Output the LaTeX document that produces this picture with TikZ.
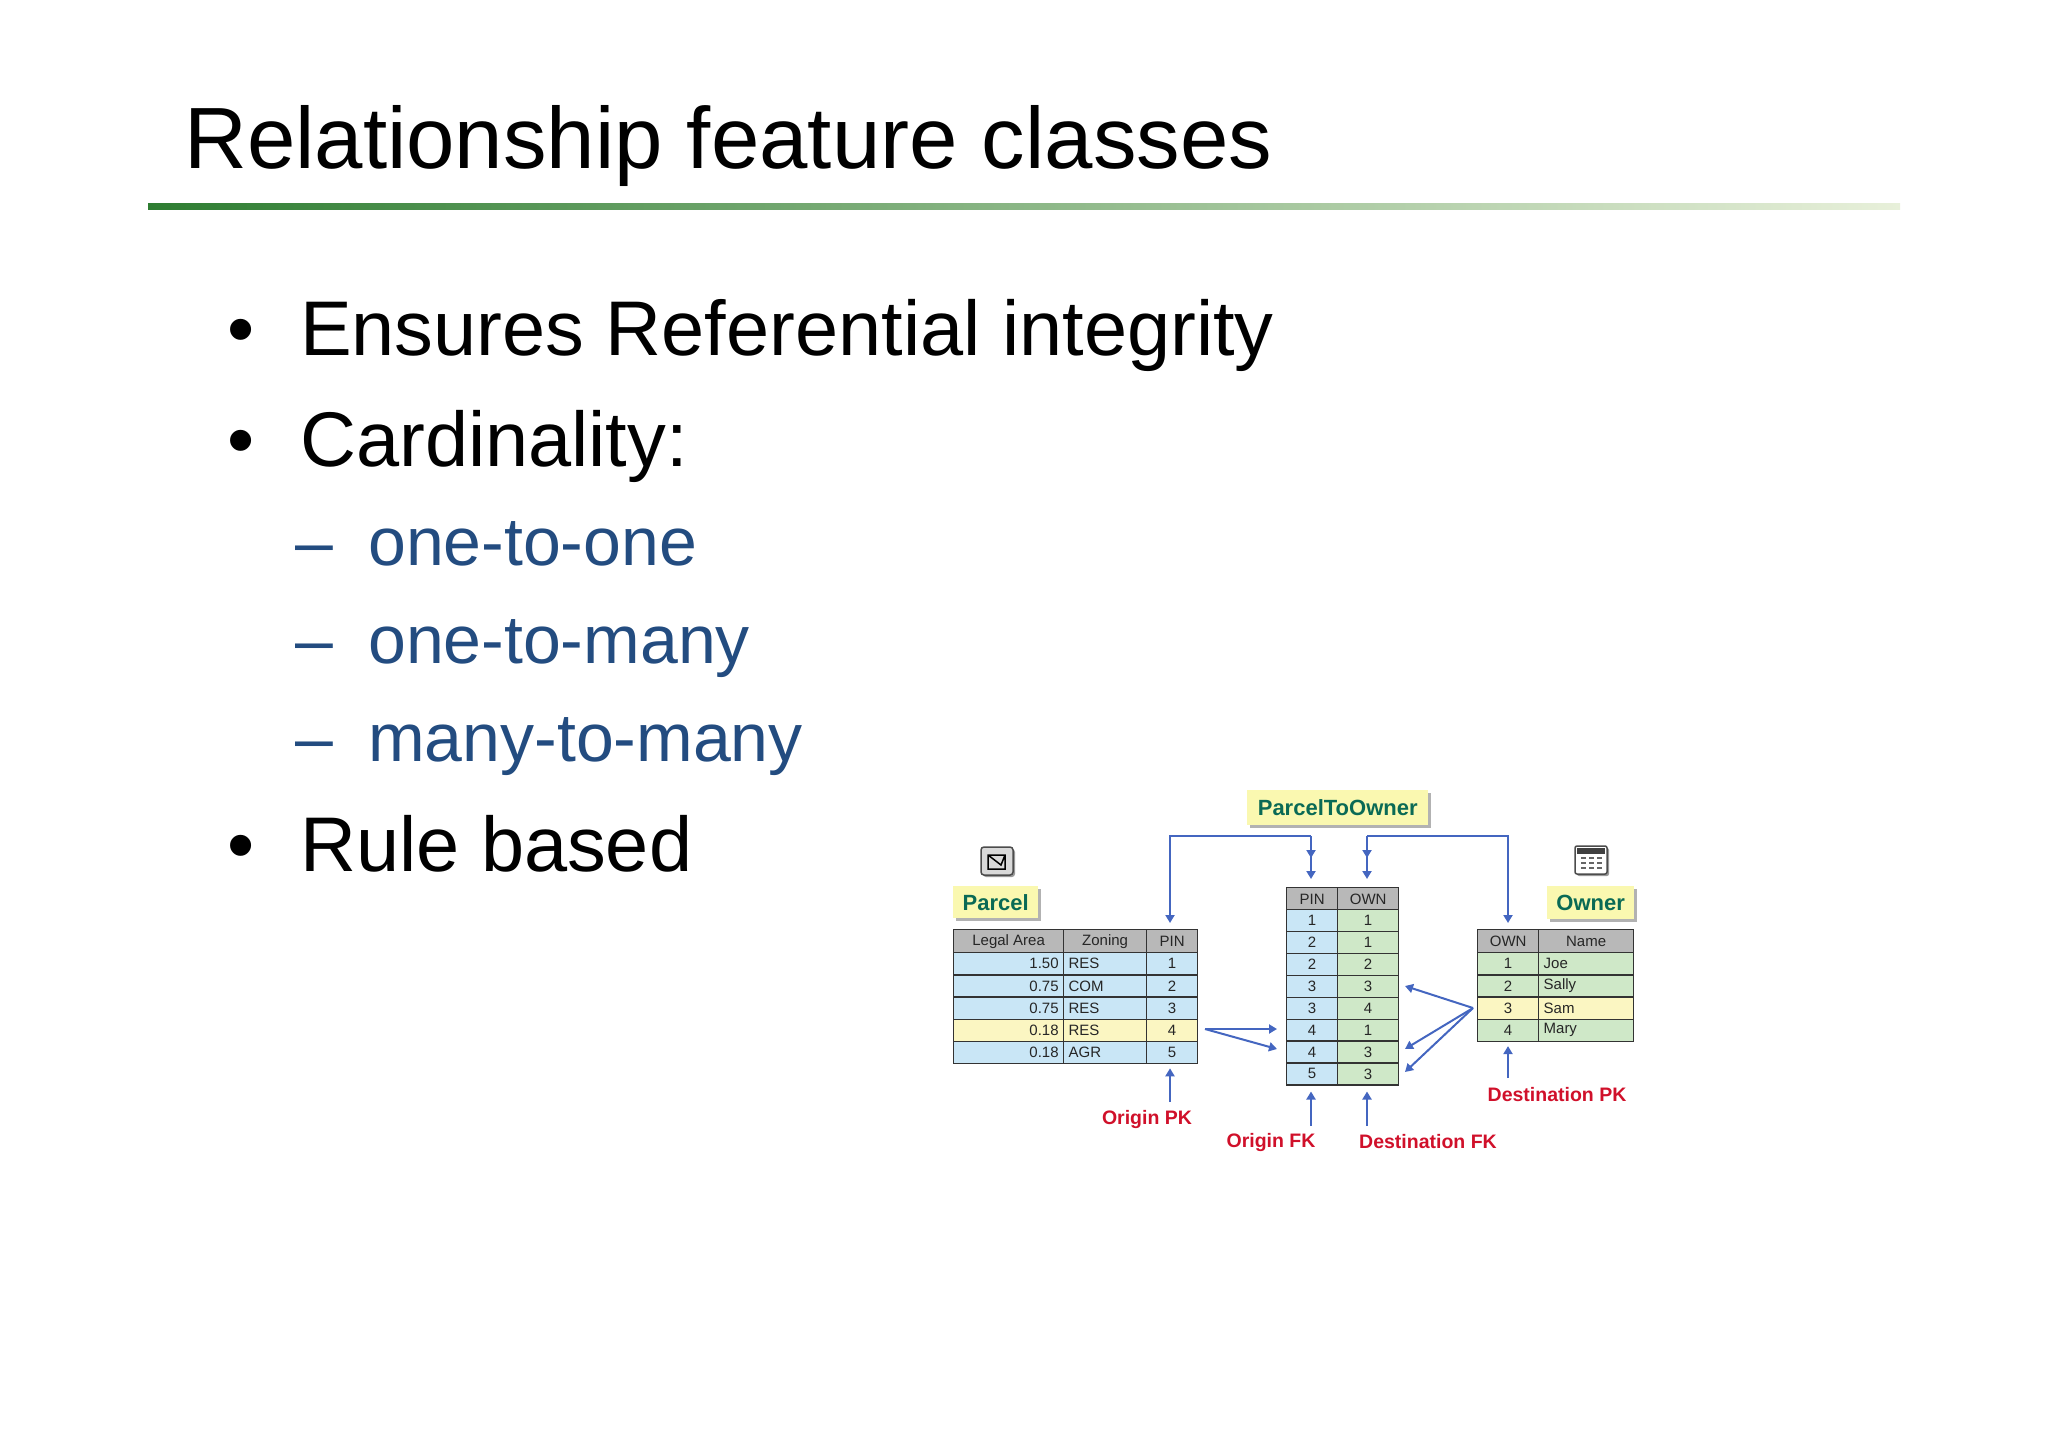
\documentclass[tikz,border=0pt]{standalone}
\usepackage{fontspec}
\setmainfont{Liberation Sans}
\usetikzlibrary{arrows.meta,shadows}
\definecolor{tblue}{HTML}{C9E6F6}
\definecolor{tyel}{HTML}{FBF6C2}
\definecolor{tgrn}{HTML}{CFE8C8}
\definecolor{thead}{HTML}{B8B8B8}
\definecolor{lblbg}{HTML}{FAF8B0}
\definecolor{lbltx}{HTML}{0A6A55}
\definecolor{kred}{HTML}{D0102A}
\definecolor{arr}{HTML}{4466C0}
\definecolor{subblue}{HTML}{234C80}
\definecolor{gdark}{HTML}{2E7D32}
\definecolor{glight}{HTML}{E8F0DA}
\tikzset{
 cell/.style={draw=black!80,line width=1.3pt,minimum height=22.2pt,inner sep=2pt,anchor=north west,font=\fontsize{15}{15}\selectfont,text=black!85},
 hcell/.style={cell,fill=thead,minimum height=23pt},
 lbl/.style={fill=lblbg,font=\bfseries\fontsize{22}{22}\selectfont,text=lbltx,inner xsep=6pt,inner ysep=6pt,drop shadow={shadow xshift=3pt,shadow yshift=-3pt,fill=black!30,opacity=1}},
 key/.style={font=\bfseries\fontsize{19.5}{19.5}\selectfont,text=kred},
 ar/.style={draw=arr,line width=2pt,-{Triangle[length=8pt,width=9pt]}},
 bul/.style={anchor=base west,font=\fontsize{77.5}{77.5}\selectfont},
 sub/.style={anchor=base west,font=\fontsize{68}{68}\selectfont,text=subblue},
}
\begin{document}
\begin{tikzpicture}[x=1pt,y=-1pt]
\useasboundingbox (0,0) rectangle (2048,1447);
% title
\node[anchor=base west,font=\fontsize{87}{87}\selectfont,inner sep=0] (title) at (184,169) {Relationship feature classes};
\shade[left color=gdark,right color=glight] (148,204) rectangle (1900,210);
% bullets
\node[bul] (b1dot) at (224,355) {•}; \node[bul,inner sep=0] (b1) at (300,355) {Ensures Referential integrity};
\node[bul] (b2dot) at (224,466) {•}; \node[bul,inner sep=0] (b2) at (300,466) {Cardinality:};
\node[sub] (s1d) at (292,565) {–}; \node[sub,inner sep=0] (s1) at (368,565) {one-to-one};
\node[sub] (s2d) at (292,663) {–}; \node[sub,inner sep=0] (s2) at (368,663) {one-to-many};
\node[sub] (s3d) at (292,761) {–}; \node[sub,inner sep=0] (s3) at (368,761) {many-to-many};
\node[bul] (b3dot) at (224,871) {•}; \node[bul,inner sep=0] (b3) at (300,871) {Rule based};
% Parcel table
\node[hcell,minimum width=110pt] (ph1) at (953,929) {Legal Area};
\node[hcell,minimum width=83pt] (ph2) at (1063,929) {Zoning};
\node[hcell,minimum width=51pt] (ph3) at (1146,929) {PIN};
\foreach \a/\z/\p/\c [count=\i from 0] in {1.50/RES/1/tblue,0.75/COM/2/tblue,0.75/RES/3/tblue,0.18/RES/4/tyel,0.18/AGR/5/tblue}{
 \node[cell,fill=\c,minimum width=110pt,text width=100pt,align=right] (pa\p) at (953,952+22.2*\i) {\a};
 \node[cell,fill=\c,minimum width=83pt,text width=73pt,align=left] (pz\p) at (1063,952+22.2*\i) {\z};
 \node[cell,fill=\c,minimum width=51pt] (pp\p) at (1146,952+22.2*\i) {\p};
}
% middle table
\node[hcell,minimum width=51pt] (mh1) at (1286,887) {PIN};
\node[hcell,minimum width=61pt] (mh2) at (1337,887) {OWN};
\foreach \p/\o [count=\i from 0] in {1/1,2/1,2/2,3/3,3/4,4/1,4/3,5/3}{
 \node[cell,fill=tblue,minimum width=51pt,minimum height=21.9pt] (mp\i) at (1286,909+21.9*\i) {\p};
 \node[cell,fill=tgrn,minimum width=61pt,minimum height=21.9pt] (mo\i) at (1337,909+21.9*\i) {\o};
}
% Owner table
\node[hcell,minimum width=61pt] (oh1) at (1477,929) {OWN};
\node[hcell,minimum width=95pt] (oh2) at (1538,929) {Name};
\foreach \o/\n/\c [count=\i from 0] in {1/Joe/tgrn,2/Sally/tgrn,3/Sam/tyel,4/Mary/tgrn}{
 \node[cell,fill=\c,minimum width=61pt] (oo\o) at (1477,952+22.2*\i) {\o};
 \node[cell,fill=\c,minimum width=95pt,text width=85pt,align=left] (on\o) at (1538,952+22.2*\i) {\n};
}
% labels
\node[lbl,anchor=north west,minimum width=85pt,minimum height=32pt] (parcel) at (953,886) {Parcel};
\node[lbl,anchor=north west,minimum width=181pt,minimum height=35pt] (pto) at (1247,790) {ParcelToOwner};
\node[lbl,anchor=north west,minimum width=87pt,minimum height=33pt] (owner) at (1547,886) {Owner};
% icons
\node[draw=black!70,fill=black!15,rounded corners=3pt,line width=1.5pt,minimum width=32pt,minimum height=28pt,drop shadow={shadow xshift=2pt,shadow yshift=-2pt,fill=black!40,opacity=1}] (picon) at (997,861) {};
\draw[line width=1.5pt] ([shift={(-9,-6)}]picon.center) -- ([shift={(8,-6)}]picon.center) -- ([shift={(8,8)}]picon.center) -- ([shift={(-9,8)}]picon.center) -- cycle ([shift={(-9,-6)}]picon.center) -- ([shift={(4,4)}]picon.center) -- ([shift={(8,-6)}]picon.center);
\node[draw=black!70,fill=white,rounded corners=2pt,line width=1.5pt,minimum width=32pt,minimum height=28pt,drop shadow={shadow xshift=2pt,shadow yshift=-2pt,fill=black!40,opacity=1}] (oicon) at (1591,860) {};
\fill[black!75] ([shift={(-14,-12)}]oicon.center) rectangle ([shift={(14,-6)}]oicon.center);
\foreach \dx in {-8,0,8}{\foreach \dy in {-2,3,8}{\fill[black!60] ([shift={(\dx-2.5,\dy-1)}]oicon.center) rectangle ([shift={(\dx+2.5,\dy+1)}]oicon.center);}}
% connectors from ParcelToOwner
\coordinate (c1) at (1170,836); \coordinate (c2) at (1311,836);
\coordinate (c3) at (1367,836); \coordinate (c4) at (1508,836);
\draw[ar,shorten >=6pt] (c2) -- (c1) -- (ph3.north -| c1);
\draw[ar] (c2) -- ++(0,22);
\draw[ar,shorten >=8pt] (c2) -- (mh1.north -| c2);
\draw[ar,shorten >=6pt] (c3) -- (c4) -- (oh1.north -| c4);
\draw[ar] (c3) -- ++(0,22);
\draw[ar,shorten >=8pt] (c3) -- (mh2.north -| c3);
% parcel 4 arrows
\coordinate (pf) at (1205,1029);
\draw[ar] (pf) -- (1277,1029);
\draw[ar] (pf) -- (1277,1049);
% Sam arrows
\coordinate (sf) at (1473,1008);
\draw[ar] (sf) -- (1405,986);
\draw[ar] (sf) -- (1405,1049);
\draw[ar] (sf) -- (1405,1072);
% key labels
\node[key] (opk) at (1147,1119) {Origin PK};
\node[key] (ofk) at (1271,1142) {Origin FK};
\node[key] (dfk) at (1428,1142) {Destination FK};
\node[key] (dpk) at (1557,1095) {Destination PK};
\draw[ar,shorten >=4pt] (1170,1102) -- (pp5.south -| 1170,0);
\draw[ar,shorten >=6pt] (1311,1126) -- (mp7.south -| 1311,0);
\draw[ar,shorten >=6pt] (1367,1126) -- (mo7.south -| 1367,0);
\draw[ar,shorten >=4pt] (1508,1078) -- (oo4.south -| 1508,0);
\end{tikzpicture}
\end{document}
